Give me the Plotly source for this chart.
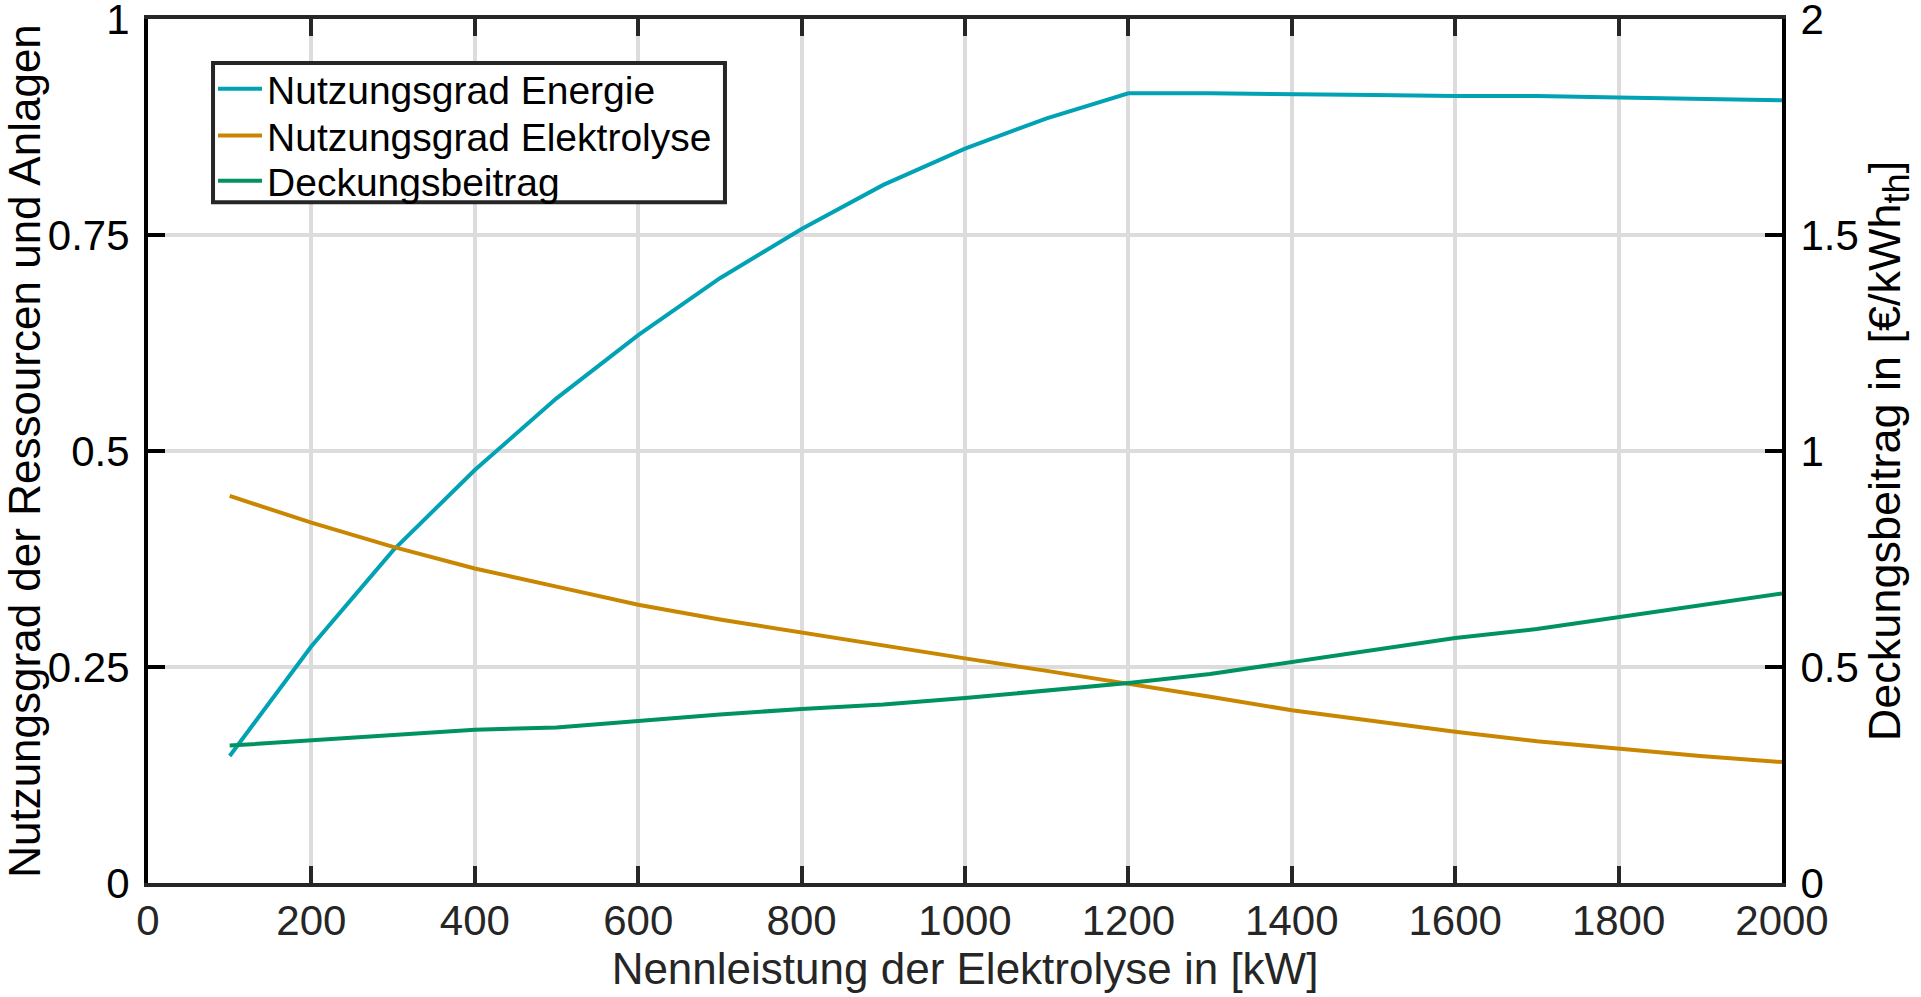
import plotly.graph_objects as go

# ---- data ----
leistung_kw = [100, 200, 300, 400, 500, 600, 700, 800, 900, 1000,
               1100, 1200, 1300, 1400, 1500, 1600, 1700, 1800, 1900, 2000]
nutzungsgrad_energie = [0.147, 0.274, 0.385, 0.478, 0.561, 0.634, 0.700, 0.757, 0.808, 0.850,
                        0.885, 0.914, 0.914, 0.9125, 0.912, 0.911, 0.911, 0.909, 0.9075, 0.906]
nutzungsgrad_elektrolyse = [0.448, 0.417, 0.389, 0.364, 0.343, 0.322, 0.305, 0.290, 0.274, 0.260,
                            0.2455, 0.231, 0.2155, 0.200, 0.187, 0.175, 0.164, 0.155, 0.147, 0.140]
deckungsbeitrag = [0.318, 0.330, 0.342, 0.355, 0.360, 0.376, 0.390, 0.403, 0.413, 0.428,
                   0.445, 0.463, 0.484, 0.511, 0.539, 0.567, 0.588, 0.616, 0.643, 0.670]

x_ticks = [0, 200, 400, 600, 800, 1000, 1200, 1400, 1600, 1800, 2000]
y_ticks = [0, 0.25, 0.5, 0.75, 1]
y_tick_text = ["0", "0.25", "0.5", "0.75", "1"]
y2_ticks = [0, 0.5, 1, 1.5, 2]
y2_tick_text = ["0", "0.5", "1", "1.5", "2"]

names = ["Nutzungsgrad Energie", "Nutzungsgrad Elektrolyse", "Deckungsbeitrag"]
colors = ["#00A2B4", "#C98600", "#00935F"]

FONT = "Liberation Sans, Arial, Helvetica, sans-serif"
DARK = "#262626"

fig = go.Figure()
fig.add_trace(go.Scatter(x=leistung_kw, y=nutzungsgrad_energie, name=names[0], legend="legend",
                         mode="lines", line=dict(color=colors[0], width=4)))
fig.add_trace(go.Scatter(x=leistung_kw, y=nutzungsgrad_elektrolyse, name=names[1], legend="legend2",
                         mode="lines", line=dict(color=colors[1], width=4)))
fig.add_trace(go.Scatter(x=leistung_kw, y=deckungsbeitrag, name=names[2], yaxis="y2", legend="legend3",
                         mode="lines", line=dict(color=colors[2], width=4)))

leg_common = dict(x=0.0398, xanchor="left", yanchor="middle", bgcolor="rgba(0,0,0,0)",
                  borderwidth=0, font=dict(size=39, color="black", family=FONT),
                  tracegroupgap=0, itemwidth=44)

fig.update_layout(
    width=1921, height=997,
    margin=dict(l=148, r=139, t=19, b=114, autoexpand=False),
    paper_bgcolor="white", plot_bgcolor="white",
    font=dict(family=FONT, size=42, color=DARK),
    showlegend=True,
    legend=dict(y=0.919, **leg_common),
    legend2=dict(y=0.865, **leg_common),
    legend3=dict(y=0.8125, **leg_common),
    shapes=[dict(type="rect", xref="paper", yref="paper",
                 x0=0.0398, x1=0.3531, y0=0.788, y1=0.949,
                 line=dict(color=DARK, width=4), fillcolor="white", layer="above")],
    xaxis=dict(
        range=[0, 2000], tickvals=x_ticks, ticks="inside", ticklen=17, tickwidth=4,
        tickcolor=DARK, showline=True, linecolor=DARK, linewidth=4, mirror="ticks",
        showgrid=True, gridcolor="#dcdcdc", gridwidth=4, zeroline=False,
        tickfont=dict(size=42, color=DARK), ticklabelstandoff=-2, ticklabeloverflow="allow",
        title=dict(text="Nennleistung der Elektrolyse in [kW]",
                   font=dict(size=44, color=DARK), standoff=2),
        automargin=False,
    ),
    yaxis=dict(
        range=[0, 1], tickvals=y_ticks, ticktext=y_tick_text, ticks="inside", ticklen=17,
        tickwidth=4, tickcolor="black", showline=True, linecolor="black", linewidth=4,
        showgrid=True, gridcolor="#dcdcdc", gridwidth=4, zeroline=False,
        tickfont=dict(size=42, color="black"), ticklabelstandoff=6, ticklabeloverflow="allow",
        title=dict(text="Nutzungsgrad der Ressourcen und Anlagen",
                   font=dict(size=44, color="black"), standoff=4),
        automargin=False,
    ),
    yaxis2=dict(
        range=[0, 2], tickvals=y2_ticks, ticktext=y2_tick_text, overlaying="y", side="right",
        ticks="inside", ticklen=17, tickwidth=4, tickcolor="black", showline=True,
        linecolor="black", linewidth=4, showgrid=False, zeroline=False,
        tickfont=dict(size=42, color="black"), ticklabelstandoff=6, ticklabeloverflow="allow",
        title=dict(text="Deckungsbeitrag in [€/kWh<sub><span style='font-size:36px'>th</span></sub>]",
                   font=dict(size=45, color="black"), standoff=4),
        automargin=False,
    ),
)

fig.write_html("out.html")
